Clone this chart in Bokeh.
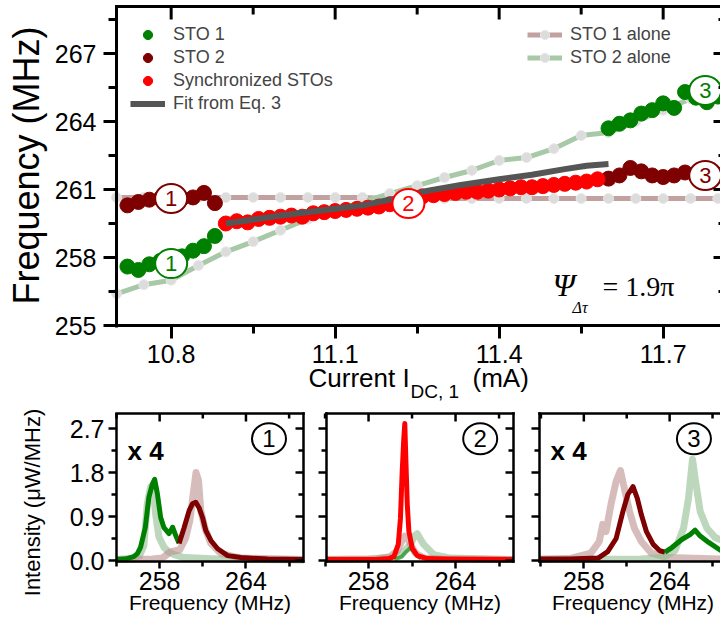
import math
from bokeh.plotting import figure
from bokeh.layouts import column, row
from bokeh.models import (Range1d, LinearAxis, FixedTicker, Legend, LegendItem,
                          Label, NumeralTickFormatter, ColumnDataSource)
from bokeh.core.properties import value
from bokeh.embed import file_html
from bokeh.resources import INLINE

FONT = "Liberation Sans"
SERIF = "Liberation Serif"
GREEN = "#008000"
MAROON = "#7f0000"
RED = "#ff0000"
FITC = "#555555"
ROSY = "#c2a1a1"
LGREEN = "#a8c9a8"
DOT = "#dcdcdc"
SPEC_ROSY = "#bc8f8f"
SPEC_LGREEN = "#8fbc8f"

# ------------------------------------------------------------------ main panel data
alone_current = [10.70, 10.75, 10.80, 10.85, 10.90, 10.95, 11.00, 11.05, 11.10, 11.15, 11.20, 11.25,
                 11.30, 11.35, 11.40, 11.45, 11.50, 11.55, 11.60, 11.65, 11.70, 11.75, 11.80]
sto1_alone_freq = [260.65, 260.65, 260.65, 260.65, 260.65, 260.65, 260.65, 260.65, 260.65, 260.65, 260.6, 260.6,
                   260.6, 260.6, 260.6, 260.6, 260.6, 260.6, 260.6, 260.6, 260.6, 260.6, 260.6]
sto2_alone_freq = [256.4, 256.8, 257.0, 257.65, 258.25, 258.7, 259.2, 259.7, 260.05, 260.45, 260.82, 261.17,
                   261.53, 261.84, 262.28, 262.41, 262.8, 263.38, 263.51, 264.0, 264.5, 265.0, 265.5]

left_current = [10.72, 10.74, 10.76, 10.78, 10.80, 10.82, 10.84, 10.86, 10.88]
sto1_left_freq = [257.6, 257.45, 257.7, 257.85, 257.9, 258.05, 258.3, 258.5, 258.95]
sto2_left_freq = [260.3, 260.45, 260.55, 260.6, 260.6, 260.6, 260.65, 260.85, 260.4]

right_current = [11.60, 11.62, 11.64, 11.66, 11.68, 11.70, 11.72, 11.74, 11.76, 11.78, 11.80]
sto1_right_freq = [263.7, 263.9, 264.05, 264.35, 264.5, 264.8, 264.6, 265.3, 265.05, 264.85, 265.1]
sto2_right_freq = [261.48, 261.62, 261.95, 261.8, 261.62, 261.55, 261.62, 261.75, 261.6, 261.6, 261.65]

sync_current = [10.90, 10.92, 10.94, 10.96, 10.98, 11.00, 11.02, 11.04, 11.06, 11.08, 11.10, 11.12,
                11.14, 11.16, 11.18, 11.20, 11.22, 11.24, 11.26, 11.28, 11.30, 11.32, 11.34, 11.36,
                11.38, 11.40, 11.42, 11.44, 11.46, 11.48, 11.50, 11.52, 11.54, 11.56, 11.58]
sync_freq = [259.5, 259.6, 259.55, 259.7, 259.75, 259.8, 259.85, 259.8, 259.95, 260.0, 260.05, 260.1,
             260.15, 260.2, 260.25, 260.35, 260.45, 260.55, 260.7, 260.75, 260.8, 260.85, 260.9, 260.9,
             260.95, 261.0, 261.05, 261.1, 261.1, 261.15, 261.2, 261.25, 261.3, 261.35, 261.45]

fit_current = [10.90, 11.00, 11.10, 11.15, 11.21, 11.27, 11.33, 11.40, 11.46, 11.52, 11.56, 11.60]
fit_freq = [259.5, 259.85, 260.15, 260.3, 260.6, 260.95, 261.2, 261.45, 261.65, 261.9, 262.05, 262.12]

mark_current = [10.80, 10.80, 11.234, 11.777, 11.777]
mark_freq = [260.6, 257.73, 260.38, 265.37, 261.62]
mark_text = ["1", "1", "2", "3", "3"]
mark_color = [MAROON, GREEN, RED, GREEN, MAROON]

main_xticks = [10.8, 11.1, 11.4, 11.7]
main_xminor = [10.95, 11.25, 11.55]
main_yticks = [255, 258, 261, 264, 267]
main_yminor = [256.5, 259.5, 262.5, 265.5, 268.5]

# ------------------------------------------------------------------ spectra data
p1_sto1_f = [255.0, 255.6, 256.2, 256.45, 256.67, 257.0, 257.25, 257.5, 257.65, 257.84, 258.07, 258.3,
             258.65, 258.9, 259.12, 259.35]
p1_sto1_i = [0.02, 0.03, 0.08, 0.14, 0.27, 0.67, 1.29, 1.57, 1.66, 1.37, 0.88, 0.67, 0.55, 0.68, 0.51, 0.35]
p1_sto2_f = [259.35, 259.7, 260.05, 260.28, 260.51, 260.74, 260.98, 261.21, 261.56, 262.03, 262.73, 263.65,
             265.5, 268.0]
p1_sto2_i = [0.35, 0.67, 1.02, 1.16, 1.19, 1.08, 0.88, 0.61, 0.41, 0.24, 0.10, 0.06, 0.03, 0.02]
p1_sto1a_f = [255.0, 256.0, 256.6, 256.9, 257.14, 257.37, 257.56, 257.72, 257.95, 258.3, 258.65, 259.0,
              259.7, 262.0, 268.0]
p1_sto1a_i = [0.02, 0.04, 0.1, 0.3, 1.16, 1.5, 1.43, 0.95, 0.48, 0.27, 0.17, 0.12, 0.06, 0.03, 0.01]
p1_sto2a_f = [255.0, 257.5, 258.2, 258.7, 259.4, 259.8, 260.1, 260.35, 260.53, 260.7, 260.86, 261.14,
              261.56, 262.26, 263.65, 268.0]
p1_sto2a_i = [0.02, 0.03, 0.05, 0.17, 0.22, 0.45, 0.82, 1.4, 1.8, 1.64, 1.02, 0.67, 0.35, 0.14, 0.05, 0.02]

p2_sync_f = [255.1, 258.5, 259.4, 259.75, 260.05, 260.2, 260.32, 260.43, 260.5, 260.57, 260.67, 260.78,
             261.01, 261.36, 262.05, 263.5, 268.0]
p2_sync_i = [0.02, 0.02, 0.04, 0.08, 0.33, 0.86, 1.82, 2.49, 2.8, 2.09, 1.15, 0.6, 0.25, 0.1, 0.04, 0.03, 0.02]
p2_sto1_f = [259.8, 260.3, 260.6, 260.9, 261.2, 261.6]
p2_sto1_i = [0.02, 0.08, 0.18, 0.26, 0.15, 0.04]
p2_sto1a_f = [255.1, 258.0, 259.5, 260.2, 260.9, 261.15, 261.36, 261.55, 261.8, 262.5, 263.66, 268.0]
p2_sto1a_i = [0.02, 0.03, 0.06, 0.12, 0.33, 0.5, 0.55, 0.45, 0.33, 0.12, 0.05, 0.02]
p2_sto2a_f = [255.1, 258.5, 259.5, 259.98, 260.3, 260.5, 260.7, 260.9, 261.24, 261.8, 263.0, 268.0]
p2_sto2a_i = [0.02, 0.03, 0.08, 0.2, 0.4, 0.5, 0.45, 0.33, 0.15, 0.05, 0.03, 0.02]

p3_sto2_f = [254.9, 257.0, 259.0, 259.67, 260.26, 260.73, 261.08, 261.44, 261.74, 262.02, 262.38, 262.85,
             263.31, 263.67]
p3_sto2_i = [0.03, 0.03, 0.05, 0.18, 0.45, 1.0, 1.35, 1.51, 1.27, 0.94, 0.59, 0.33, 0.2, 0.17]
p3_sto1_f = [263.67, 264.14, 264.85, 265.43, 265.78, 266.14, 266.73, 267.6]
p3_sto1_i = [0.17, 0.26, 0.43, 0.53, 0.62, 0.5, 0.37, 0.2]
p3_sto2a_f = [254.9, 257.0, 258.49, 259.08, 259.32, 259.55, 259.9, 260.26, 260.56, 260.84, 261.2, 261.55,
              262.02, 262.73, 263.9, 267.6]
p3_sto2a_i = [0.03, 0.04, 0.15, 0.39, 0.74, 0.59, 1.15, 1.62, 1.84, 1.47, 1.0, 0.65, 0.39, 0.15, 0.06, 0.03]
p3_sto1a_f = [254.9, 262.0, 263.5, 264.37, 264.97, 265.32, 265.6, 265.78, 266.14, 266.61, 267.2, 267.6]
p3_sto1a_i = [0.02, 0.03, 0.06, 0.2, 0.66, 1.27, 2.07, 1.68, 1.0, 0.66, 0.47, 0.42]

panel_mark_freq = [265.6, 265.7, 265.7]
panel_mark_int = [2.49, 2.49, 2.49]
panel_mark_text = ["1", "2", "3"]

spec_xticks = [258, 264]
spec_xminor = [255, 261, 267]
spec_yticks = [0.0, 0.9, 1.8, 2.7]
spec_yminor = [0.45, 1.35, 2.25]


# ------------------------------------------------------------------ helpers
def base_fig(width, height, xr, yr):
    f = figure(width=width, height=height, x_range=Range1d(*xr), y_range=Range1d(*yr),
               output_backend="svg", toolbar_location=None,
               x_axis_location=None, y_axis_location=None,
               min_border_left=0, min_border_right=0, min_border_top=0, min_border_bottom=0)
    f.title.visible = False
    f.outline_line_color = None
    f.background_fill_color = "white"
    f.border_fill_color = "white"
    for g in f.grid:
        g.visible = False
    return f


def real_axis(f, side, loc, bounds, ticks, minor, tick_out, minor_out, standoff, lw, fmt=None):
    ax = LinearAxis(ticker=FixedTicker(ticks=ticks, minor_ticks=minor), fixed_location=loc, bounds=bounds)
    ax.major_tick_out = tick_out
    ax.major_tick_in = 0
    ax.minor_tick_out = minor_out
    ax.minor_tick_in = 0
    ax.axis_line_width = lw
    ax.major_tick_line_width = lw
    ax.minor_tick_line_width = lw
    ax.axis_line_color = "black"
    ax.major_label_text_font = FONT
    ax.major_label_text_font_size = "25px"
    ax.major_label_text_color = "black"
    ax.major_label_standoff = standoff
    if fmt is not None:
        ax.formatter = fmt
    f.add_layout(ax, side)
    return ax


def border(f, x0, y0, x1, y1, lw):
    f.segment(x0=[x0], y0=[y0], x1=[x1], y1=[y1], line_color="black", line_width=lw, line_cap="square")


def tick_marks(f, positions, fixed, length, vertical, lw):
    n = len(positions)
    if vertical:
        f.segment(x0=positions, y0=[fixed] * n, x1=positions, y1=[fixed + length] * n,
                  line_color="black", line_width=lw, line_cap="butt")
    else:
        f.segment(x0=[fixed] * n, y0=positions, x1=[fixed + length] * n, y1=positions,
                  line_color="black", line_width=lw, line_cap="butt")


MID = 0.3465   # distance (in em) from the middle of the text box down to the baseline


def slabel(f, canvas_h, x, base, text, size_px, font=FONT, style="normal", rotated=False,
           align="left", color="black"):
    """x / base are canvas pixel positions (from the canvas top-left) of the text start and baseline.
    For rotated text, x is the baseline column and base the vertical centre."""
    if rotated:
        sx = x - MID * size_px
        sy = canvas_h - base
        ang = math.pi / 2
    else:
        sx = x
        sy = canvas_h - (base - MID * size_px)
        ang = 0.0
    lab = Label(x=sx, y=sy, x_units="screen", y_units="screen", text=text, text_font=font,
                text_font_size=f"{size_px}px", text_font_style=style, angle=ang, text_align=align,
                text_baseline="middle", text_color=color)
    f.add_layout(lab)
    return lab


# ------------------------------------------------------------------ main figure (frame = whole canvas)
W = 720
H_MAIN = 403
BOX_L, BOX_R, BOX_T, BOX_B = 116, 726, 6, 325
PX_PER_MA = 164 / 0.3
PX_PER_MHZ = 68 / 3.0
X0, Y0 = 10.7, 255.0
xr = (X0 - BOX_L / PX_PER_MA, X0 + (W - BOX_L) / PX_PER_MA)
yr = (Y0 - (H_MAIN - BOX_B) / PX_PER_MHZ, Y0 + BOX_B / PX_PER_MHZ)
x_right = X0 + (BOX_R - BOX_L) / PX_PER_MA
y_top = Y0 + (BOX_B - BOX_T) / PX_PER_MHZ
LW = 3
dx = LW / 2 / PX_PER_MA
dy = LW / 2 / PX_PER_MHZ

p = base_fig(W, H_MAIN, xr, yr)

r1a_line = p.line(alone_current, sto1_alone_freq, line_color=ROSY, line_width=5)
r1a_dot = p.scatter(alone_current, sto1_alone_freq, size=10, marker="circle", fill_color=DOT, line_color="#e8e8e8")
r2a_line = p.line(alone_current, sto2_alone_freq, line_color=LGREEN, line_width=5)
r2a_dot = p.scatter(alone_current, sto2_alone_freq, size=10, marker="circle", fill_color=DOT, line_color="#e8e8e8")

r_s1 = p.scatter(left_current, sto1_left_freq, size=15, marker="circle", fill_color=GREEN, line_color=GREEN)
p.scatter(right_current, sto1_right_freq, size=15, marker="circle", fill_color=GREEN, line_color=GREEN)
r_s2 = p.scatter(left_current, sto2_left_freq, size=15, marker="circle", fill_color=MAROON, line_color=MAROON)
p.scatter(right_current, sto2_right_freq, size=15, marker="circle", fill_color=MAROON, line_color=MAROON)
r_sync = p.scatter(sync_current, sync_freq, size=15, marker="circle", fill_color=RED, line_color=RED)
r_fit = p.line(fit_current, fit_freq, line_color=FITC, line_width=6)

msrc = ColumnDataSource(dict(x=mark_current, y=mark_freq, t=mark_text, c=mark_color))
p.ellipse(x="x", y="y", width=32, height=29, width_units="screen", height_units="screen",
          fill_color="white", line_color="c", line_width=2, source=msrc)
p.text(x="x", y="y", text="t", text_color="c", text_align="center", text_baseline="middle",
       text_font=value(FONT), text_font_size="22px", source=msrc)

real_axis(p, "left", X0, (Y0 - dy, y_top), main_yticks, main_yminor, 13, 8, 7, LW)
real_axis(p, "below", Y0, (X0 - dx, x_right), main_xticks, main_xminor, 13, 8, 6, LW)
border(p, X0, y_top, x_right, y_top, LW)
tick_marks(p, main_xticks, y_top, -13 / PX_PER_MHZ, True, LW)
tick_marks(p, main_xminor, y_top, -8 / PX_PER_MHZ, True, LW)
tick_marks(p, main_yticks, x_right, -13 / PX_PER_MA, False, LW)
tick_marks(p, main_yminor, x_right, -8 / PX_PER_MA, False, LW)

ROW_H = 23
leg1 = Legend(items=[LegendItem(label="STO 1", renderers=[r_s1]),
                     LegendItem(label="STO 2", renderers=[r_s2]),
                     LegendItem(label="Synchronized STOs", renderers=[r_sync]),
                     LegendItem(label="Fit from Eq. 3", renderers=[r_fit])])
leg2 = Legend(items=[LegendItem(label="STO 1 alone", renderers=[r1a_line, r1a_dot]),
                     LegendItem(label="STO 2 alone", renderers=[r2a_line, r2a_dot])])
for lg, lx, nrow in ((leg1, 130, 4), (leg2, 527, 2)):
    lg.border_line_color = None
    lg.background_fill_alpha = 0
    lg.padding = 0
    lg.margin = 0
    lg.spacing = 0
    lg.glyph_width = 35
    lg.glyph_height = ROW_H
    lg.label_height = ROW_H
    lg.label_standoff = 8
    lg.label_text_font = FONT
    lg.label_text_font_size = "18px"
    lg.label_text_baseline = "middle"
    top = 34 - ROW_H / 2
    lg.location = (lx, H_MAIN - top - nrow * ROW_H)
    p.add_layout(lg)

slabel(p, H_MAIN, 38, 165, "Frequency (MHz)", 36, rotated=True, align="center")
slabel(p, H_MAIN, 308, 387, "Current I", 26)
slabel(p, H_MAIN, 410, 398, "DC, 1", 19)
slabel(p, H_MAIN, 472, 387, "(mA)", 26)
slabel(p, H_MAIN, 552, 296, "\u03a8", 32, font=SERIF, style="italic")
slabel(p, H_MAIN, 572, 313, "\u0394\u03c4", 16, font=SERIF, style="italic")
slabel(p, H_MAIN, 602, 296, "= 1.9\u03c0", 28, font=SERIF)

# ------------------------------------------------------------------ spectra panels
H_SP = 215
ROW_TOP = H_MAIN
SP_TOP, SP_ZERO = 413, 560
PX_PER_UNIT = 44 / 0.9
SP_LW = 2.5


def spectrum_panel(x_left, width, box_left, box_right, f_left, px_per_mhz, left_labels, right_side,
                   curves, mark_idx, x4):
    xr_ = (f_left - (box_left - x_left) / px_per_mhz, f_left + (x_left + width - box_left) / px_per_mhz)
    yr_ = (-(ROW_TOP + H_SP - SP_ZERO) / PX_PER_UNIT, (SP_ZERO - ROW_TOP) / PX_PER_UNIT)
    q = base_fig(width, H_SP, xr_, yr_)
    f_right = f_left + (box_right - box_left) / px_per_mhz
    i_top = (SP_ZERO - SP_TOP) / PX_PER_UNIT
    i_bot = -0.02
    ddx = SP_LW / 2 / px_per_mhz
    ddy = SP_LW / 2 / PX_PER_UNIT

    for f, i, col, lw, a in curves:
        q.line(f, i, line_color=col, line_width=lw, line_alpha=a, line_join="round")

    real_axis(q, "below", i_bot, (f_left - ddx, f_right + ddx), spec_xticks, spec_xminor, 7, 5, 4, SP_LW)
    if left_labels:
        real_axis(q, "left", f_left, (i_bot - ddy, i_top), spec_yticks, spec_yminor, 8, 5, 4, SP_LW,
                  fmt=NumeralTickFormatter(format="0.0"))
    else:
        border(q, f_left, i_bot, f_left, i_top, SP_LW)
        tick_marks(q, spec_yticks, f_left, -8 / px_per_mhz, False, SP_LW)
        tick_marks(q, spec_yminor, f_left, -5 / px_per_mhz, False, SP_LW)
    border(q, f_left, i_top, f_right, i_top, SP_LW)
    tick_marks(q, spec_xticks, i_top, -8 / PX_PER_UNIT, True, SP_LW)
    tick_marks(q, spec_xminor, i_top, -5 / PX_PER_UNIT, True, SP_LW)
    if right_side:
        border(q, f_right, i_bot, f_right, i_top, SP_LW)
        tick_marks(q, spec_yticks, f_right, -8 / px_per_mhz, False, SP_LW)
        tick_marks(q, spec_yminor, f_right, -5 / px_per_mhz, False, SP_LW)

    src = ColumnDataSource(dict(x=[panel_mark_freq[mark_idx]], y=[panel_mark_int[mark_idx]],
                                t=[panel_mark_text[mark_idx]]))
    q.ellipse(x="x", y="y", width=34, height=31, width_units="screen", height_units="screen",
              fill_color="white", line_color="black", line_width=2, source=src)
    q.text(x="x", y="y", text="t", text_color="black", text_align="center", text_baseline="middle",
           text_font=value(FONT), text_font_size="24px", source=src)
    if x4:
        slabel(q, H_SP, box_left - x_left + 11, 460 - ROW_TOP, "x 4", 26, style="bold")
    slabel(q, H_SP, (box_left + box_right) / 2 - x_left, 609 - ROW_TOP, "Frequency (MHz)", 21,
           align="center")
    return q


q1 = spectrum_panel(0, 314, 116, 303, 255.0, 187 / 13.0, True, True, [
    (p1_sto1a_f, p1_sto1a_i, SPEC_LGREEN, 7, 0.6),
    (p1_sto2a_f, p1_sto2a_i, SPEC_ROSY, 7, 0.6),
    (p1_sto1_f, p1_sto1_i, GREEN, 5, 1.0),
    (p1_sto2_f, p1_sto2_i, MAROON, 5, 1.0),
], 0, True)
slabel(q1, H_SP, 40, 502 - ROW_TOP, "Intensity (\u03bcW/MHz)", 22, rotated=True, align="center")

q2 = spectrum_panel(314, 216, 326, 513, 255.1, 14.5, False, True, [
    (p2_sto1a_f, p2_sto1a_i, SPEC_LGREEN, 7, 0.6),
    (p2_sto2a_f, p2_sto2a_i, SPEC_ROSY, 7, 0.6),
    (p2_sto1_f, p2_sto1_i, GREEN, 4, 0.6),
    (p2_sync_f, p2_sync_i, RED, 5, 1.0),
], 1, False)

q3 = spectrum_panel(530, 190, 539, 726, 254.9, 14.3, False, False, [
    (p3_sto2a_f, p3_sto2a_i, SPEC_ROSY, 7, 0.6),
    (p3_sto1a_f, p3_sto1a_i, SPEC_LGREEN, 7, 0.6),
    (p3_sto2_f, p3_sto2_i, MAROON, 5, 1.0),
    (p3_sto1_f, p3_sto1_i, GREEN, 5, 1.0),
], 2, True)

layout = column(p, row(q1, q2, q3))
open("out.html", "w").write(file_html(layout, INLINE))
